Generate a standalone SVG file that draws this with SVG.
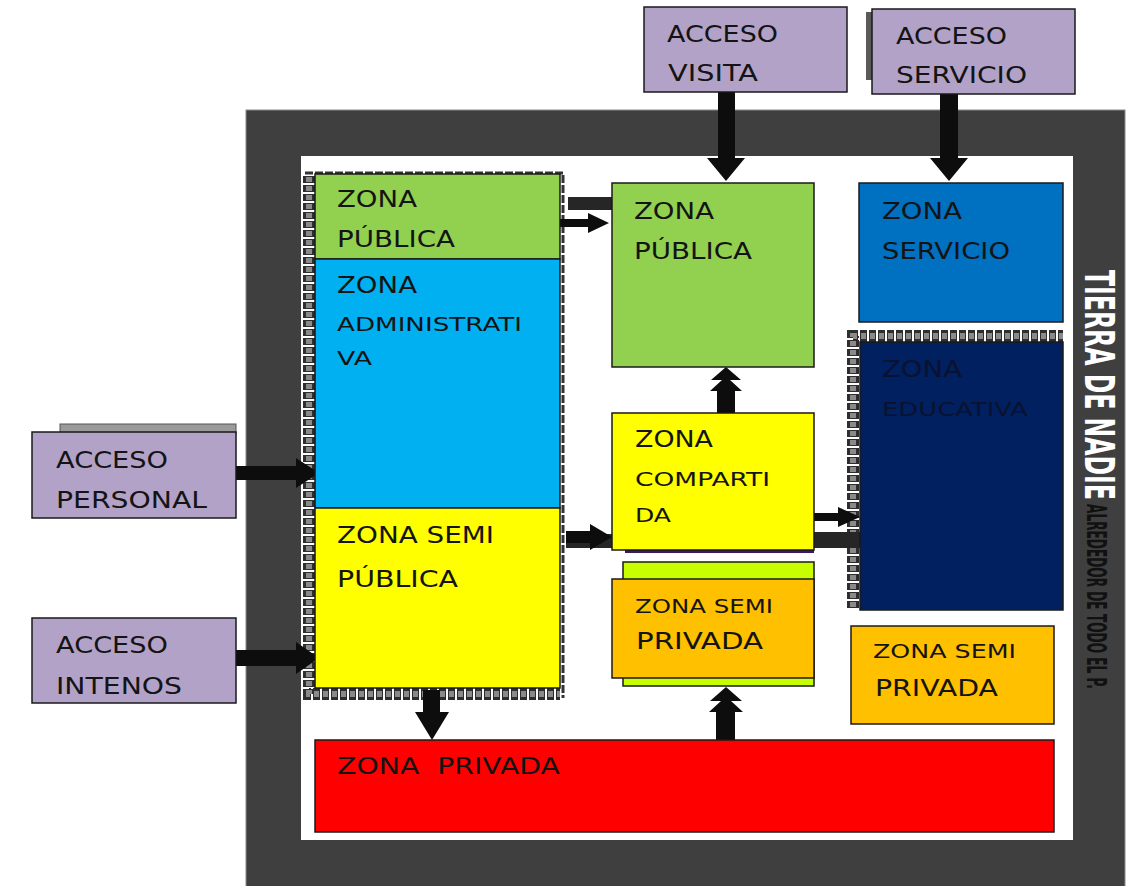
<svg xmlns="http://www.w3.org/2000/svg" width="1137" height="886" viewBox="0 0 1137 886">
<style>
.box{stroke:#1a1a1a;stroke-width:1.5}
.lbl{font-family:"DejaVu Sans","Liberation Sans",sans-serif;font-size:23px;fill:#141414}
.sm{font-size:19px}
.arrow{fill:#0d0d0d}
.bar{fill:#262626}
.chainBase{stroke:#fff;stroke-width:12;fill:none}
.chainDark{stroke:#2e2e2e;stroke-width:12;fill:none;stroke-dasharray:7 2}
.chainLight{stroke:#8a8a8a;stroke-width:6;fill:none;stroke-dasharray:5 4;stroke-dashoffset:-1}
.side{font-family:"DejaVu Sans","Liberation Sans",sans-serif;font-weight:bold}
</style>
<rect width="1137" height="886" fill="#fff"/>
<!-- frame -->
<g id="tierra-de-nadie">
<rect x="246" y="110" width="879" height="780" fill="#3f3f3f" stroke="#8a8a8a" stroke-width="1"/>
<rect x="301" y="156" width="772" height="684" fill="#fff"/>
<text class="side" transform="translate(1085,270) rotate(90) scale(0.55,1)" font-size="40" fill="#fff" textLength="418" lengthAdjust="spacingAndGlyphs">TIERRA DE NADIE</text>
<text class="side" transform="translate(1087,504) rotate(90) scale(0.48,1)" font-size="26" fill="#111" textLength="385" lengthAdjust="spacingAndGlyphs">ALREDEDOR DE TODO EL P.</text>
</g>

<!-- left column dashed border -->
<g id="left-column-border">
<path class="chainBase" d="M309 176 V694 H560"/>
<path class="chainDark" d="M309 176 V694 H560"/>
<path class="chainLight" d="M309 176 V694 H560"/>
<path d="M305 173 H563 V698" fill="none" stroke="#333" stroke-width="3" stroke-dasharray="8 2"/>
</g>
<!-- educativa dashed border -->
<g id="educativa-border">
<path class="chainBase" d="M853 608 V336 H1063"/>
<path class="chainDark" d="M853 608 V336 H1063"/>
<path class="chainLight" d="M853 608 V336 H1063"/>
</g>

<!-- connectors -->
<g id="connectors">
<path class="arrow" d="M718 92 H735 V158 H745 L726 181 L707 158 H718 Z"/>
<path class="arrow" d="M940 94 H958 V158 H968 L949 181 L930 158 H940 Z"/>
<path class="arrow" d="M236 466 H296 V458 L319 473 L296 488 V480 H236 Z"/>
<path class="arrow" d="M236 650 H296 V642 L319 658 L296 674 V666 H236 Z"/>
<rect class="bar" x="568" y="197" width="44" height="13"/>
<path class="arrow" d="M560 219 H588 V213 L609 223 L588 233 V227 H560 Z"/>
<rect class="bar" x="566" y="534" width="46" height="14"/>
<path class="arrow" d="M566 531 H590 V524 L612 537 L590 550 V543 H566 Z"/>
<path class="arrow" d="M717 413 V391 H710 L722 380 H711 L726 367 L741 380 H730 L742 391 H735 V413 Z"/>
<path class="arrow" d="M814 513 H838 V507 L860 517 L838 527 V521 H814 Z"/>
<rect class="bar" x="814" y="532" width="46" height="16"/>
<path class="arrow" d="M423 690 H440 V712 H449 L432 740 L415 712 H423 Z"/>
<path class="arrow" d="M716 740 V712 H709 L721 701 H710 L726 687 L742 701 H731 L743 712 H735 V740 Z"/>
</g>

<!-- access nodes -->
<g id="acceso-visita">
<rect class="box" x="644" y="7" width="203" height="85" fill="#b3a2c7"/>
<text class="lbl" x="667" y="42" textLength="111" lengthAdjust="spacingAndGlyphs">ACCESO</text>
<text class="lbl" x="668" y="81" textLength="90" lengthAdjust="spacingAndGlyphs">VISITA</text>
</g>
<g id="acceso-servicio">
<rect x="866" y="12" width="8" height="68" fill="#5a5a5a"/>
<rect class="box" x="872" y="9" width="203" height="85" fill="#b3a2c7"/>
<text class="lbl" x="896" y="44" textLength="111" lengthAdjust="spacingAndGlyphs">ACCESO</text>
<text class="lbl" x="896" y="83" textLength="131" lengthAdjust="spacingAndGlyphs">SERVICIO</text>
</g>
<g id="acceso-personal">
<rect x="60" y="424" width="176" height="10" fill="#9a9a9a" stroke="#555" stroke-width="1"/>
<rect class="box" x="32" y="432" width="204" height="86" fill="#b3a2c7"/>
<text class="lbl" x="56" y="468" textLength="112" lengthAdjust="spacingAndGlyphs">ACCESO</text>
<text class="lbl" x="56" y="508" textLength="151" lengthAdjust="spacingAndGlyphs">PERSONAL</text>
</g>
<g id="acceso-intenos">
<rect class="box" x="32" y="618" width="204" height="85" fill="#b3a2c7"/>
<text class="lbl" x="56" y="653" textLength="112" lengthAdjust="spacingAndGlyphs">ACCESO</text>
<text class="lbl" x="56" y="694" textLength="126" lengthAdjust="spacingAndGlyphs">INTENOS</text>
</g>

<!-- left column zones -->
<g id="zona-publica-1">
<rect class="box" x="315" y="174" width="245" height="85" fill="#92d050"/>
<text class="lbl" x="337" y="207" textLength="80" lengthAdjust="spacingAndGlyphs">ZONA</text>
<text class="lbl" x="337" y="247" textLength="118" lengthAdjust="spacingAndGlyphs">PÚBLICA</text>
</g>
<g id="zona-administrativa">
<rect class="box" x="315" y="259" width="245" height="249" fill="#00b0f0"/>
<text class="lbl" x="337" y="293" textLength="80" lengthAdjust="spacingAndGlyphs">ZONA</text>
<text class="lbl sm" x="337" y="331" textLength="185" lengthAdjust="spacingAndGlyphs">ADMINISTRATI</text>
<text class="lbl sm" x="337" y="365" textLength="35" lengthAdjust="spacingAndGlyphs">VA</text>
</g>
<g id="zona-semi-publica">
<rect class="box" x="315" y="508" width="245" height="180" fill="#ffff00"/>
<text class="lbl" x="337" y="543" textLength="157" lengthAdjust="spacingAndGlyphs">ZONA SEMI</text>
<text class="lbl" x="337" y="587" textLength="121" lengthAdjust="spacingAndGlyphs">PÚBLICA</text>
</g>

<!-- middle column -->
<g id="zona-publica-2">
<rect class="box" x="612" y="183" width="202" height="184" fill="#92d050"/>
<text class="lbl" x="634" y="219" textLength="80" lengthAdjust="spacingAndGlyphs">ZONA</text>
<text class="lbl" x="634" y="259" textLength="118" lengthAdjust="spacingAndGlyphs">PÚBLICA</text>
</g>
<g id="zona-compartida">
<rect x="625" y="549" width="189" height="4" fill="#3a1a60"/>
<rect class="box" x="612" y="413" width="202" height="137" fill="#ffff00"/>
<text class="lbl" x="635" y="447" textLength="78" lengthAdjust="spacingAndGlyphs">ZONA</text>
<text class="lbl sm" x="635" y="486" textLength="135" lengthAdjust="spacingAndGlyphs">COMPARTI</text>
<text class="lbl sm" x="635" y="522" textLength="36" lengthAdjust="spacingAndGlyphs">DA</text>
</g>
<g id="zona-semi-privada-1">
<rect class="box" x="623" y="562" width="191" height="124" fill="#c8ff00"/>
<rect class="box" x="612" y="579" width="202" height="99" fill="#ffc000"/>
<text class="lbl sm" x="635" y="613" textLength="138" lengthAdjust="spacingAndGlyphs">ZONA SEMI</text>
<text class="lbl" x="636" y="649" textLength="127" lengthAdjust="spacingAndGlyphs">PRIVADA</text>
</g>

<!-- right column -->
<g id="zona-servicio">
<rect class="box" x="859" y="183" width="204" height="139" fill="#0070c0"/>
<text class="lbl" x="882" y="219" textLength="80" lengthAdjust="spacingAndGlyphs">ZONA</text>
<text class="lbl" x="882" y="259" textLength="128" lengthAdjust="spacingAndGlyphs">SERVICIO</text>
</g>
<g id="zona-educativa">
<rect class="box" x="860" y="342" width="203" height="268" fill="#002060"/>
<text class="lbl" x="882" y="377" textLength="80" lengthAdjust="spacingAndGlyphs" style="fill:#0b1230">ZONA</text>
<text class="lbl sm" x="882" y="416" textLength="146" lengthAdjust="spacingAndGlyphs" style="fill:#0b1230">EDUCATIVA</text>
</g>
<g id="zona-semi-privada-2">
<rect class="box" x="851" y="626" width="203" height="98" fill="#ffc000"/>
<text class="lbl sm" x="873" y="658" textLength="143" lengthAdjust="spacingAndGlyphs">ZONA SEMI</text>
<text class="lbl" x="875" y="696" textLength="123" lengthAdjust="spacingAndGlyphs">PRIVADA</text>
</g>

<!-- bottom -->
<g id="zona-privada">
<rect class="box" x="315" y="740" width="739" height="92" fill="#ff0000"/>
<text class="lbl" x="337" y="774" textLength="223" lengthAdjust="spacingAndGlyphs" xml:space="preserve">ZONA  PRIVADA</text>
</g>
</svg>
